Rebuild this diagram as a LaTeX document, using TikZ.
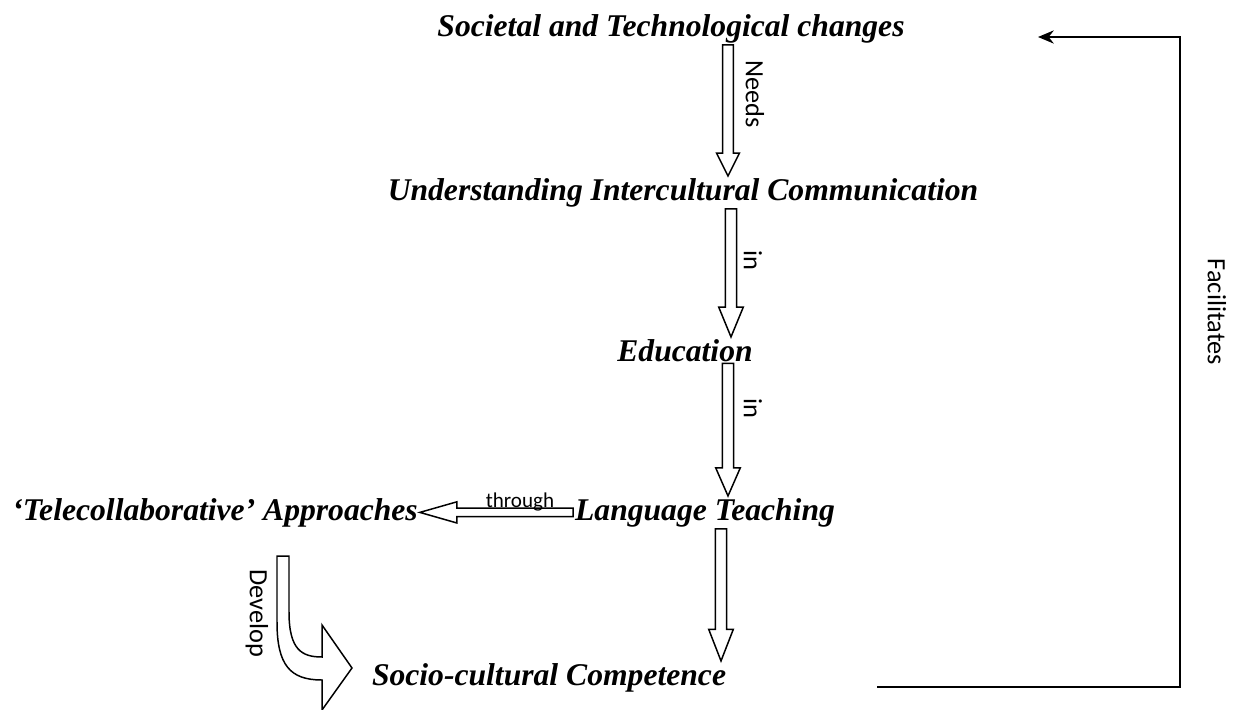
\documentclass[tikz,border=0pt]{standalone}
\usepackage{fontspec}
\setmainfont{Liberation Serif}
\newfontfamily\calibri{Carlito}
\usetikzlibrary{arrows.meta, calc}

\tikzset{
  concept/.style={font=\fontsize{18}{21}\selectfont\bfseries\itshape, inner sep=1pt, anchor=base},
  verb/.style={font=\calibri\fontsize{15}{18}\selectfont, inner sep=0pt},
  hollow/.style={draw, line width=0.85pt, line join=miter, fill=white},
  % block arrow: #1 half shaft, #2 half head, #3 head length
  fat/.style n args={3}{hollow, to path={
      ($(\tikztotarget)!#3!(\tikztostart)$) coordinate (hb)
      ($(\tikztostart)!#1!90:(\tikztotarget)$) -- ($(hb)!#1!-90:(\tikztostart)$)
      -- ($(hb)!#2!-90:(\tikztostart)$) -- (\tikztotarget)
      -- ($(hb)!#2!90:(\tikztostart)$) -- ($(hb)!#1!90:(\tikztostart)$)
      -- ($(\tikztostart)!#1!-90:(\tikztotarget)$) -- cycle}},
  feedback/.style={line width=1.1pt, -{Stealth[length=9pt, width=7.5pt]}},
}

\begin{document}
\begin{tikzpicture}[x=0.02cm, y=-0.02cm]
  \useasboundingbox (0,0) rectangle (1241,710);

  % concepts, placed on their baselines
  \node[concept] (soc)  at (671,36)  {Societal and Technological changes};
  \node[concept] (und)  at (683,200) {Understanding Intercultural Communication};
  \node[concept] (edu)  at (685,361) {Education};
  \node[concept] (lang) at (705,520) {Language Teaching};
  \node[concept] (tele) at (215,520) {`Telecollaborative' Approaches};
  \node[concept] (soco) at (549,685) {Socio-cultural Competence};

  % block arrows down the middle
  \draw[fat={3pt}{6.5pt}{13pt}] (soc.south -| 728,0) to (und.north -| 728,0);
  \draw[fat={3.2pt}{7pt}{17pt}] (und.south -| 731,0) to (edu.north -| 731,0);
  \draw[fat={3.2pt}{7pt}{16pt}] (edu.south -| 728,0) to (lang.north -| 728,0);
  \draw[fat={3.2pt}{7pt}{18pt}] (lang.south -| 721,0) to (soco.north -| 721,0);
  \draw[fat={2.4pt}{6pt}{21pt}] (lang.west) to (tele.east);

  \node[verb, rotate=-90] (lneeds) at (755,94)  {Needs};
  \node[verb, rotate=-90] (lin1)   at (753,260) {in};
  \node[verb, rotate=-90] (lin2)   at (753,408) {in};
  \node[verb, font=\calibri\fontsize{12}{14}\selectfont] (lthr) at (520,502) {through};

  % bent arrow from the approaches
  \draw[hollow] (289,556) -- (289,612) .. controls (289,650) and (302,657) .. (322,657)
    -- (322,625) -- (352,668) -- (322,710) -- (322,680)
    .. controls (290,680) and (277,665) .. (277,622) -- (277,556) -- cycle;
  \node[verb, rotate=-90] (ldev) at (257,613) {Develop};

  % loop back to the top
  \coordinate (fbout) at (877,687);
  \coordinate (fbin)  at (1038,37);
  \draw[feedback] (fbout) -- (fbout -| 1180,0) |- (fbin);
  \node[verb, rotate=-90] (lfac) at (1217,312) {Facilitates};
\end{tikzpicture}
\end{document}
